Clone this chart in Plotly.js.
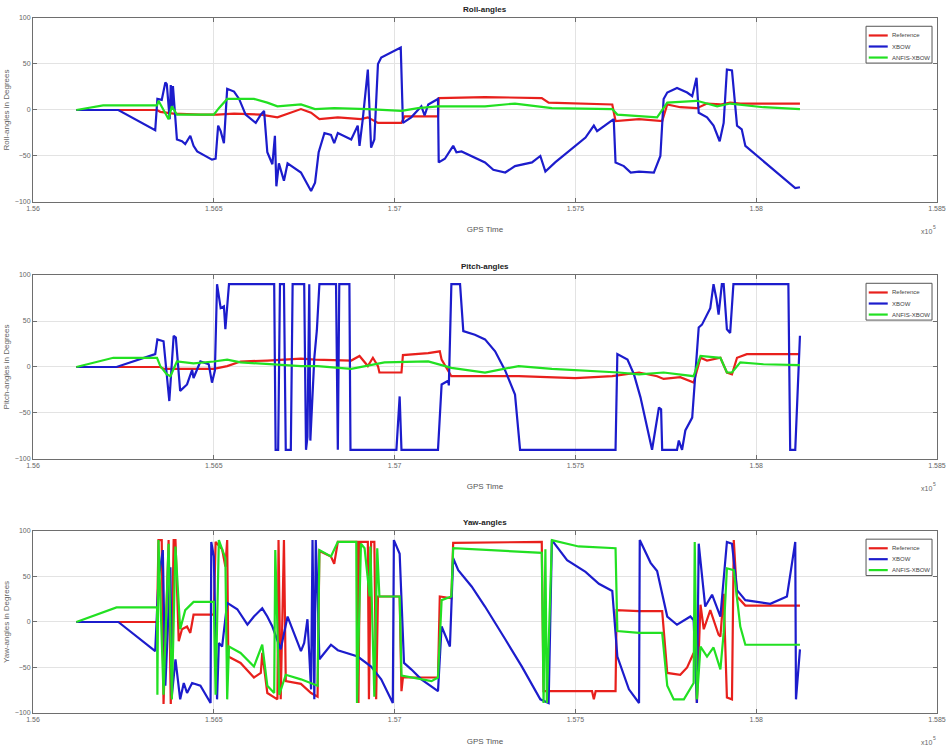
<!DOCTYPE html>
<html>
<head>
<meta charset="utf-8">
<script src="https://cdn.plot.ly/plotly-3.0.1.min.js"></script>
<style>html,body{margin:0;padding:0;background:#fff;}#chart{width:950px;height:748px;}</style>
</head>
<body>
<div id="chart"></div>
<script>
// ---------- DATA (GPS time in units of 1e5 s, angles in degrees) ----------
const seriesNames = ["Reference", "XBOW", "ANFIS-XBOW"];
const xTickVals = [1.56, 1.565, 1.57, 1.575, 1.58, 1.585];
const xTickText = ["1.56", "1.565", "1.57", "1.575", "1.58", "1.585"];
const yTickVals = [-100, -50, 0, 50, 100];

// Roll
const rollRefT = [1.5612,1.56343,1.56352,1.56389,1.56463,1.56509,1.56556,1.5663,1.56676,1.56713,1.56741,1.56769,1.56792,1.56843,1.56907,1.56926,1.56954,1.57019,1.57028,1.5712,1.57122,1.5725,1.57407,1.57426,1.57602,1.57611,1.57676,1.5774,1.57754,1.5779,1.57836,1.57864,1.57901,1.57928,1.57956,1.5802,1.58121];
const rollRefV = [0,0,-2,-4,-5,-5,-4,-5,-8,-3,1,-3,-10,-8,-10,-8,-14,-14,-7,-7,13,14,13,8,6,-12,-10,-12,6,3,2,7,6,8,7,7,7];
const rollXbowT = [1.5612,1.56236,1.56338,1.56344,1.56356,1.56366,1.5637,1.56378,1.56381,1.56384,1.56387,1.56398,1.56412,1.56421,1.56435,1.56444,1.56454,1.56495,1.56505,1.56512,1.56519,1.56528,1.56537,1.56556,1.5657,1.56588,1.56616,1.5663,1.56639,1.56648,1.56662,1.56669,1.56673,1.5668,1.56694,1.56704,1.56741,1.56769,1.5678,1.5679,1.56806,1.56824,1.56833,1.56843,1.5688,1.56898,1.56903,1.56912,1.56926,1.56935,1.56944,1.56954,1.56963,1.57017,1.57023,1.57046,1.57074,1.57083,1.57093,1.5712,1.57122,1.57139,1.57162,1.57171,1.57185,1.57213,1.5725,1.57273,1.57306,1.57333,1.5738,1.57403,1.57417,1.57444,1.57477,1.575,1.57528,1.57551,1.5756,1.57606,1.57611,1.57634,1.57653,1.57676,1.57717,1.57735,1.57744,1.57754,1.57781,1.57809,1.57823,1.57835,1.57841,1.57864,1.57882,1.57899,1.5791,1.57919,1.57933,1.57947,1.5796,1.5797,1.58108,1.58121];
const rollXbowV = [0,0,-22,12,11,30,28,-10,27,0,26,-32,-34,-37,-28,-39,-45,-54,-53,-17,-23,-36,23,20,12,-5,-14,-5,-1,-46,-59,-28,-83,-58,-77,-58,-68,-88,-79,-46,-25,-27,-36,-25,-32,-17,-39,-10,44,-41,-32,50,57,68,-14,-8,4,-6,6,12,-57,-53,-39,-46,-45,-50,-57,-65,-68,-61,-57,-50,-67,-57,-46,-39,-30,-17,-23,-10,-57,-61,-68,-67,-68,-50,12,19,24,19,15,35,-3,-8,-17,-34,-14,44,43,-17,-21,-39,-85,-84];
const rollAnfisT = [1.5612,1.56194,1.56343,1.56347,1.56375,1.56384,1.56398,1.565,1.56514,1.56537,1.56611,1.56648,1.56676,1.56741,1.5678,1.56833,1.56926,1.57019,1.57065,1.5712,1.5725,1.57333,1.57435,1.57602,1.57616,1.57676,1.57726,1.57754,1.57836,1.57892,1.57928,1.5802,1.58121];
const rollAnfisV = [0,5,5,10,-10,4,-5,-5,2,12,12,8,4,6,1,2,1,-1,2,4,4,7,2,1,-5,-7,-8,8,10,4,7,3,1];

// Pitch
const pitchRefT = [1.5612,1.56352,1.56361,1.565,1.56537,1.56574,1.56648,1.56741,1.5678,1.5688,1.56903,1.56926,1.5694,1.56954,1.56958,1.57019,1.57023,1.57093,1.57125,1.5713,1.57157,1.57343,1.575,1.57602,1.57676,1.57726,1.57744,1.5779,1.57827,1.57846,1.57864,1.57901,1.57919,1.57933,1.57947,1.57974,1.58121];
const pitchRefV = [0,0,-2,-2,1,6,7,9,8,7,12,1,10,1,-6,-6,13,15,17,8,-10,-10,-12,-10,-6,-10,-13,-11,-17,10,7,10,-6,-8,10,14,14];
const pitchXbowT = [1.5612,1.56231,1.56338,1.56344,1.56361,1.56377,1.56389,1.56395,1.56407,1.56426,1.5644,1.56444,1.56463,1.56486,1.56495,1.56503,1.56509,1.56519,1.56528,1.56532,1.56542,1.56667,1.56671,1.56678,1.56683,1.56694,1.56699,1.56713,1.56718,1.5675,1.56755,1.56759,1.56764,1.56767,1.56778,1.56785,1.56792,1.56838,1.56843,1.56847,1.56875,1.56878,1.57005,1.57014,1.57019,1.5712,1.5713,1.57148,1.5715,1.57157,1.57181,1.5719,1.57222,1.5725,1.57278,1.57306,1.57333,1.57347,1.57611,1.57616,1.57644,1.57662,1.5768,1.57712,1.57731,1.57737,1.5774,1.57781,1.57786,1.57795,1.57804,1.57823,1.57841,1.5785,1.57873,1.57882,1.5789,1.57896,1.57905,1.5791,1.57919,1.57928,1.57937,1.58089,1.58094,1.58108,1.58121];
const pitchXbowV = [0,0,14,30,28,-37,34,32,-26,-19,-3,-12,6,3,-17,-4,90,64,66,41,90,90,-90,-90,90,90,-90,-90,90,90,-90,-76,90,-80,10,40,90,90,-90,90,90,-90,-90,-32,-90,-90,-19,-15,-20,90,90,39,35,30,17,-4,-30,-90,-90,14,8,-8,-33,-90,-44,-46,-90,-90,-80,-90,-69,-55,43,46,64,90,74,57,90,90,41,37,90,90,-90,-90,34];
const pitchAnfisT = [1.5612,1.56222,1.56343,1.56352,1.5637,1.5638,1.56398,1.56444,1.565,1.56537,1.56574,1.56648,1.56741,1.56787,1.5688,1.56972,1.57093,1.57157,1.5725,1.57343,1.57435,1.5762,1.57676,1.57744,1.57827,1.57846,1.57901,1.57919,1.57933,1.57956,1.5802,1.58121];
const pitchAnfisV = [0,10,10,1,-8,-10,6,4,6,8,5,3,1,1,-2,5,6,-1,-6,1,-2,-6,-8,-6,-10,12,10,-6,-6,5,3,2];

// Yaw
const yawRefT = [1.5612,1.56343,1.56347,1.56356,1.56361,1.56375,1.56381,1.56389,1.56394,1.56403,1.56412,1.56426,1.56435,1.56444,1.565,1.56505,1.56523,1.56532,1.56537,1.5654,1.56574,1.56611,1.5663,1.56634,1.56648,1.56676,1.56679,1.56685,1.56694,1.56699,1.56741,1.56769,1.56787,1.56792,1.56824,1.56833,1.56843,1.56898,1.569,1.56904,1.56926,1.56929,1.56935,1.56944,1.56949,1.56954,1.57014,1.57019,1.57023,1.5712,1.57125,1.57157,1.57162,1.57324,1.57407,1.57412,1.57546,1.57551,1.57556,1.57611,1.57614,1.57676,1.5774,1.57754,1.5779,1.57809,1.57827,1.57834,1.57836,1.57846,1.57855,1.57873,1.57896,1.57901,1.5791,1.57919,1.57933,1.57938,1.57947,1.5797,1.58121];
const yawRefV = [0,0,90,90,-90,90,-90,90,90,-21,-8,-5,-12,8,8,88,80,61,90,-38,-45,-61,-56,-34,-78,-85,90,-85,90,-65,-68,-78,-82,78,72,64,88,88,-89,88,88,-85,88,88,-85,28,28,-76,-61,-61,28,26,87,88,88,-76,-76,-85,-76,-76,13,12,12,-56,-58,-50,-34,-40,-89,19,-8,13,-14,-16,31,-83,-85,90,28,18,18];
const yawXbowT = [1.5612,1.56236,1.56338,1.56347,1.56359,1.56366,1.5638,1.56384,1.56394,1.56407,1.56417,1.56426,1.5644,1.56463,1.56491,1.56493,1.565,1.56509,1.56514,1.56523,1.56537,1.56565,1.56593,1.56611,1.56634,1.56648,1.56662,1.56685,1.56704,1.56722,1.56741,1.5675,1.56759,1.56769,1.56773,1.56778,1.56782,1.56787,1.56792,1.56824,1.56843,1.56898,1.56935,1.56963,1.56995,1.56998,1.57014,1.57026,1.57046,1.57074,1.5712,1.5713,1.57153,1.57162,1.57176,1.57213,1.5725,1.57306,1.57352,1.57403,1.57426,1.57435,1.57477,1.57528,1.57565,1.57602,1.57616,1.57648,1.57676,1.57678,1.57708,1.57726,1.57754,1.57781,1.57818,1.57827,1.57836,1.57841,1.57859,1.57878,1.57901,1.57919,1.57933,1.57947,1.5797,1.58039,1.58085,1.58108,1.5811,1.58121];
const yawXbowV = [0,0,-32,46,79,-70,60,-81,-41,-85,-67,-78,-67,-70,-89,88,72,-85,-23,-27,21,14,-3,6,15,6,-5,-30,6,-12,-32,-23,3,-74,90,-85,90,30,-41,-25,-31,-38,-49,-63,-89,90,75,-45,-52,-63,-76,-5,-27,70,57,39,17,-19,-49,-85,-89,90,68,55,42,34,-38,-74,-89,90,65,56,6,-3,6,2,-89,86,17,30,6,88,86,35,24,20,28,88,-85,-30];
const yawAnfisT = [1.5612,1.56231,1.56343,1.56344,1.56347,1.56361,1.56375,1.56384,1.56394,1.56407,1.56421,1.56444,1.565,1.56505,1.56514,1.56532,1.56537,1.56542,1.56574,1.56611,1.56634,1.56648,1.56667,1.5667,1.56681,1.56699,1.56741,1.56787,1.56792,1.56824,1.56843,1.56894,1.56896,1.56907,1.56917,1.56931,1.56933,1.56944,1.56952,1.56958,1.57014,1.57019,1.57102,1.5712,1.5713,1.57157,1.57162,1.5725,1.57343,1.57407,1.57412,1.57417,1.57421,1.57435,1.57509,1.57611,1.57616,1.57676,1.5774,1.57754,1.57772,1.578,1.57827,1.5783,1.57836,1.57846,1.57864,1.57882,1.57901,1.5791,1.57919,1.57938,1.57956,1.5797,1.58121];
const yawAnfisV = [0,16,16,-80,90,-80,86,-85,83,-8,13,22,22,-80,90,70,-85,-27,-34,-49,-25,-70,-78,79,-80,-58,-63,-70,79,72,88,88,-89,86,81,28,83,-82,81,28,28,-59,-65,-61,24,28,81,79,77,76,-89,80,-89,90,83,81,-10,-12,-12,-70,-85,-85,-67,88,-85,-27,-38,-28,-52,-12,59,57,-5,-25,-25];

// ---------- STYLE ----------
const colors = ["#e8201c", "#1c1ccc", "#22e022"];
const panels = [
  {title: "Roll-angles", ytitle: "Roll-angles in Degrees", data: [[rollRefT, rollRefV],[rollXbowT, rollXbowV],[rollAnfisT, rollAnfisV]]},
  {title: "Pitch-angles", ytitle: "Pitch-angles in Degrees", data: [[pitchRefT, pitchRefV],[pitchXbowT, pitchXbowV],[pitchAnfisT, pitchAnfisV]]},
  {title: "Yaw-angles", ytitle: "Yaw-angles in Degrees", data: [[yawRefT, yawRefV],[yawXbowT, yawXbowV],[yawAnfisT, yawAnfisV]]}
];
const domains = [[0.7353, 1], [0.3655, 0.6302], [0, 0.2619]];

// compact MATLAB-like legend box (paper x, axis-domain y)
const legBox = {x0: 0.9215, x1: 0.9945, y0: 0.755, y1: 0.955};
const legRows = [0.905, 0.845, 0.785];
const legLine = {x0: 0.9245, x1: 0.9455};
const legTextX = 0.948;

const traces = [];
const layout = {
  width: 950, height: 748,
  margin: {l: 33, r: 13, t: 18, b: 35},
  paper_bgcolor: "#ffffff", plot_bgcolor: "#ffffff",
  font: {family: "Liberation Sans, Arial, sans-serif", size: 7, color: "#555555"},
  showlegend: false,
  annotations: [],
  shapes: []
};

panels.forEach((p, i) => {
  const n = i + 1;
  const xa = "x" + (n === 1 ? "" : n);
  const ya = "y" + (n === 1 ? "" : n);
  p.data.forEach((d, k) => {
    traces.push({
      x: d[0], y: d[1], type: "scatter", mode: "lines",
      name: seriesNames[k], xaxis: xa, yaxis: ya,
      line: {color: colors[k], width: 2.2}
    });
  });
  const axCommon = {
    showline: true, linecolor: "#6e6e6e", linewidth: 1, mirror: "ticks",
    ticks: "inside", ticklen: 4, tickcolor: "#6e6e6e",
    showgrid: true, gridcolor: "#e3e3e3", gridwidth: 1, zeroline: false,
    tickfont: {size: 7, color: "#666666"}
  };
  layout["xaxis" + (n === 1 ? "" : n)] = Object.assign({}, axCommon, {
    domain: [0, 1], anchor: ya, range: [1.56, 1.585],
    tickvals: xTickVals, ticktext: xTickText,
    title: {text: "GPS Time", font: {size: 8, color: "#555555"}, standoff: 15}
  });
  layout["yaxis" + (n === 1 ? "" : n)] = Object.assign({}, axCommon, {
    domain: domains[i], anchor: xa, range: [-100, 100],
    tickvals: yTickVals,
    title: {text: p.ytitle, font: {size: 8, color: "#666666"}, standoff: 4}
  });
  layout.annotations.push({
    text: p.title, xref: "paper", yref: ya + " domain",
    x: 0.5, y: 1, yanchor: "bottom", yshift: 2, showarrow: false,
    font: {size: 8, color: "#222222", weight: "bold"}
  });
  layout.annotations.push({
    text: "x10", xref: "paper", yref: ya + " domain",
    x: 0.988, y: -0.16, xanchor: "center", yanchor: "middle", showarrow: false,
    font: {size: 7, color: "#666666"}
  });
  layout.annotations.push({
    text: "5", xref: "paper", yref: ya + " domain",
    x: 0.9975, y: -0.135, xanchor: "center", yanchor: "middle", showarrow: false,
    font: {size: 5, color: "#666666"}
  });
  // legend
  layout.shapes.push({
    type: "rect", xref: "paper", yref: ya + " domain",
    x0: legBox.x0, x1: legBox.x1, y0: legBox.y0, y1: legBox.y1,
    line: {color: "#555555", width: 1}, fillcolor: "#ffffff", layer: "above"
  });
  seriesNames.forEach((nm, k) => {
    layout.shapes.push({
      type: "line", xref: "paper", yref: ya + " domain",
      x0: legLine.x0, x1: legLine.x1, y0: legRows[k], y1: legRows[k],
      line: {color: colors[k], width: 2.2}, layer: "above"
    });
    layout.annotations.push({
      text: nm, xref: "paper", yref: ya + " domain",
      x: legTextX, y: legRows[k], xanchor: "left", yanchor: "middle",
      showarrow: false, font: {size: 6, color: "#444444"}
    });
  });
});

Plotly.newPlot("chart", traces, layout, {displayModeBar: false, staticPlot: true});
</script>
</body>
</html>
